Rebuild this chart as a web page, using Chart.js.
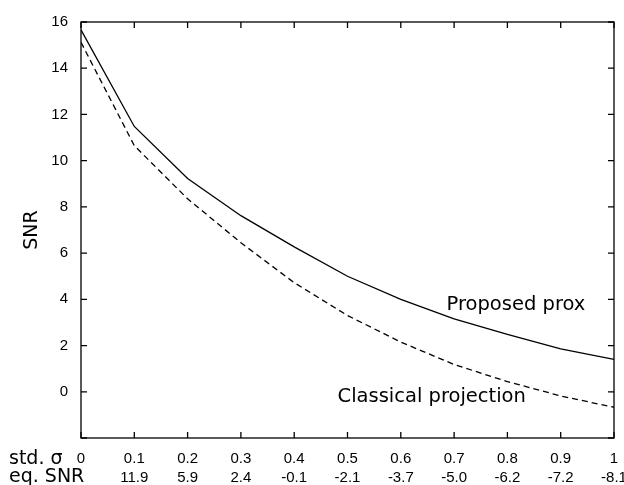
<!DOCTYPE html>
<html>
<head>
<meta charset="utf-8">
<script src="https://cdn.jsdelivr.net/npm/chart.js@4.4.1/dist/chart.umd.min.js"></script>
<style>
  body { margin: 0; background: #fff; }
  #snr-chart { display: block; }
</style>
</head>
<body>
<canvas id="snr-chart" width="624" height="485"></canvas>
<script>
// noise std and the equivalent input SNR printed under each tick
const sigma = [0, 0.1, 0.2, 0.3, 0.4, 0.5, 0.6, 0.7, 0.8, 0.9, 1];
const eqSnr = ['', '11.9', '5.9', '2.4', '-0.1', '-2.1', '-3.7', '-5.0', '-6.2', '-7.2', '-8.1'];

// output SNR of both methods
const proposedProx = [15.66, 11.48, 9.23, 7.62, 6.27, 5.0, 4.0, 3.15, 2.48, 1.86, 1.4];
const classicalProj = [15.12, 10.65, 8.35, 6.45, 4.72, 3.3, 2.15, 1.18, 0.44, -0.18, -0.67];

const yTicks = [-2, 0, 2, 4, 6, 8, 10, 12, 14, 16];

const labelFont = '19px "DejaVu Sans"';
const noteFont = '19.5px "DejaVu Sans"';
const tickFont = '15px "Liberation Sans"';

const toPoints = vals => vals.map((v, i) => ({ x: sigma[i], y: v }));

// frame, inward ticks, x labels and curve names
const decorations = {
    id: 'decorations',
    afterDraw(chart) {
        const ctx = chart.ctx;
        const area = chart.chartArea;
        const xs = chart.scales.x;
        const ys = chart.scales.y;
        ctx.save();
        ctx.strokeStyle = '#000';
        ctx.lineWidth = 1.3;
        ctx.strokeRect(area.left, area.top, area.right - area.left, area.bottom - area.top);

        ctx.beginPath();
        sigma.forEach(v => {
            const px = xs.getPixelForValue(v);
            ctx.moveTo(px, area.bottom);
            ctx.lineTo(px, area.bottom - 6);
            ctx.moveTo(px, area.top);
            ctx.lineTo(px, area.top + 6);
        });
        yTicks.forEach(v => {
            const py = ys.getPixelForValue(v);
            ctx.moveTo(area.left, py);
            ctx.lineTo(area.left + 6, py);
            ctx.moveTo(area.right, py);
            ctx.lineTo(area.right - 6, py);
        });
        ctx.stroke();

        ctx.fillStyle = '#000';
        ctx.font = tickFont;
        ctx.textAlign = 'center';
        ctx.textBaseline = 'alphabetic';
        sigma.forEach((v, i) => {
            const px = xs.getPixelForValue(v);
            ctx.fillText(String(v), px, area.bottom + 25);
            ctx.fillText(eqSnr[i], px, area.bottom + 44);
        });

        ctx.font = labelFont;
        ctx.textAlign = 'left';
        ctx.fillText('std. σ', 9, area.bottom + 26);
        ctx.fillText('eq. SNR', 9, area.bottom + 44);

        ctx.font = noteFont;
        ctx.textAlign = 'center';
        ctx.fillText('Proposed prox', xs.getPixelForValue(0.816), 310);
        ctx.fillText('Classical projection', xs.getPixelForValue(0.658), 402);

        ctx.font = labelFont;
        ctx.translate(37, (area.top + area.bottom) / 2);
        ctx.rotate(-Math.PI / 2);
        ctx.fillText('SNR', 0, 0);
        ctx.restore();
    }
};

new Chart(document.getElementById('snr-chart'), {
    type: 'line',
    data: {
        datasets: [
            {
                label: 'Proposed prox',
                data: toPoints(proposedProx),
                borderColor: '#000',
                borderWidth: 1.3,
                pointRadius: 0,
                tension: 0,
                fill: false
            },
            {
                label: 'Classical projection',
                data: toPoints(classicalProj),
                borderColor: '#000',
                borderWidth: 1.3,
                borderDash: [6, 4],
                pointRadius: 0,
                tension: 0,
                fill: false
            }
        ]
    },
    options: {
        responsive: false,
        animation: false,
        layout: { padding: { top: 17, right: 10, left: 0, bottom: 0 } },
        plugins: {
            legend: { display: false },
            tooltip: { enabled: false }
        },
        scales: {
            x: {
                type: 'linear',
                min: 0,
                max: 1,
                grid: { display: false, drawTicks: false },
                border: { display: false },
                ticks: { display: false },
                afterFit(scale) { scale.height = 47; }
            },
            y: {
                min: -2,
                max: 16,
                grid: { display: false, drawTicks: false },
                border: { display: false },
                ticks: {
                    stepSize: 2,
                    color: '#000',
                    padding: 13,
                    font: { family: 'Liberation Sans', size: 15 },
                    callback: v => (v === -2 ? '' : v)
                },
                afterFit(scale) { scale.width = 81; }
            }
        }
    },
    plugins: [decorations]
});
</script>
</body>
</html>
